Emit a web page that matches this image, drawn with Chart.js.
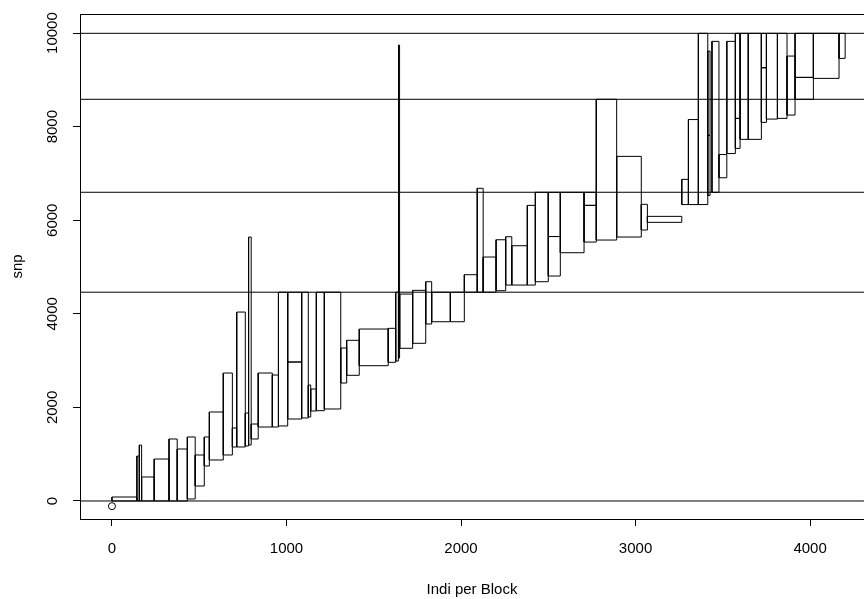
<!DOCTYPE html>
<html>
<head>
<meta charset="utf-8">
<script src="https://cdn.jsdelivr.net/npm/chart.js@4.4.0/dist/chart.umd.min.js"></script>
<style>
  html, body { margin: 0; padding: 0; background: #fff; }
  #wrap { width: 864px; height: 599px; }
</style>
</head>
<body>
<div id="wrap"><canvas id="blockChart" width="864" height="599"></canvas></div>
<script>
// Blocks: individual range (x0..x1) against snp range (y0..y1)
const blockX0 = [0, 143, 157, 170, 242, 327, 374, 432, 477, 529, 558, 638, 690, 715, 764, 783, 798, 838, 919, 954,
  1007, 1007, 1087, 1125, 1139, 1171, 1217, 1311, 1345, 1417, 1583, 1626, 1642, 1649, 1723, 1798, 1832, 1939,
  2019, 2093, 2127, 2201, 2256, 2291, 2380, 2426, 2500, 2500, 2569, 2705, 2705, 2775, 2892, 3033, 3068,
  3265, 3303, 3360, 3414, 3414, 3438, 3478, 3523, 3572, 3572, 3599, 3646, 3721, 3721, 3750, 3813, 3868,
  3914, 3914, 4019, 4166];
const blockX1 = [143, 157, 170, 242, 327, 374, 432, 477, 529, 558, 638, 690, 715, 764, 783, 798, 838, 919, 954, 1007,
  1087, 1087, 1125, 1139, 1171, 1217, 1311, 1345, 1417, 1583, 1626, 1641, 1648, 1723, 1798, 1832, 1939, 2019,
  2093, 2127, 2201, 2256, 2291, 2380, 2426, 2500, 2569, 2569, 2705, 2775, 2775, 2892, 3033, 3068, 3265,
  3303, 3360, 3414, 3427, 3427, 3478, 3523, 3572, 3599, 3599, 3646, 3721, 3750, 3750, 3813, 3868, 3914,
  4019, 4019, 4166, 4201];
const blockY0 = [0, 0, 0, 0, 0, 0, 0, 43, 320, 748, 876, 983, 1154, 1154, 1175, 1197, 1325, 1581, 1581, 1603,
  1752, 2970, 1774, 1795, 1923, 1930, 1966, 2521, 2686, 2891, 2964, 2991, 3055, 3263, 3370, 3782, 3831, 3831,
  4462, 4462, 4462, 4494, 4615, 4615, 4615, 4686, 4808, 5652, 5306, 5534, 6318, 5577, 5641, 5791, 5955,
  6335, 6335, 6335, 6528, 7814, 6598, 6908, 7425, 7536, 8177, 7729, 7729, 8092, 9259, 8162, 8177, 8248,
  9053, 8585, 9032, 9459];
const blockY1 = [85, 960, 1195, 513, 897, 1325, 1111, 1368, 983, 1368, 1902, 2735, 1560, 4038, 1880, 5641, 1645, 2735, 2692, 4462,
  2970, 4462, 4462, 2479, 2393, 4462, 4462, 3269, 3434, 3675, 3690, 4462, 9744, 4423, 4502, 4686, 4462, 4462,
  4836, 6682, 5214, 5583, 5647, 5455, 6318, 6598, 5652, 6598, 6598, 6318, 6598, 8585, 7365, 6340, 6083,
  6874, 8152, 9995, 7814, 9615, 9823, 7404, 9823, 8177, 9995, 9995, 9995, 9259, 9995, 9995, 9995, 9509,
  9995, 9053, 9995, 9995];

// Horizontal cut levels and the starting point
const cutLevels = [0, 4462, 6598, 8585, 9995];
const startX = [0];
const startY = [-110];

const xTicks = [0, 1000, 2000, 3000, 4000];
const yTicks = [0, 2000, 4000, 6000, 8000, 10000];
const xRange = [-183, 4309];
const yRange = [-385, 10408];

const FONT = '"Liberation Sans", Arial, sans-serif';

// rectangle outlines as one broken polyline
const rectPath = [];
blockX0.forEach((x0, i) => {
    const x1 = blockX1[i], y0 = blockY0[i], y1 = blockY1[i];
    rectPath.push({ x: x0, y: y0 }, { x: x1, y: y0 }, { x: x1, y: y1 }, { x: x0, y: y1 }, { x: x0, y: y0 });
    rectPath.push({ x: null, y: null });
});

const cutPath = [];
cutLevels.forEach(v => {
    cutPath.push({ x: xRange[0], y: v }, { x: xRange[1], y: v }, { x: null, y: null });
});

const framePlugin = {
    id: 'frameAndLabels',
    afterDraw(chart) {
        const ctx = chart.ctx;
        const a = chart.chartArea;
        const ys = chart.scales.y;
        ctx.save();
        ctx.strokeStyle = '#000';
        ctx.lineWidth = 1;
        ctx.strokeRect(a.left + 0.5, a.top + 0.5, a.right - a.left, a.bottom - a.top);

        // rotated y tick labels, as in base R
        ctx.font = '15px ' + FONT;
        ctx.fillStyle = '#000';
        ctx.textAlign = 'center';
        ctx.textBaseline = 'middle';
        yTicks.forEach(v => {
            ctx.save();
            ctx.translate(a.left - 27, ys.getPixelForValue(v));
            ctx.rotate(-Math.PI / 2);
            ctx.fillText(String(v), 0, 0);
            ctx.restore();
        });
        ctx.restore();
    }
};

const axisLook = {
    border: { display: false },
    grid: { drawOnChartArea: false, drawTicks: true, tickLength: 7, color: '#000', lineWidth: 1 }
};

new Chart(document.getElementById('blockChart'), {
    type: 'scatter',
    data: {
        datasets: [
            { data: rectPath, showLine: true, spanGaps: false, borderColor: '#000', borderWidth: 1, pointRadius: 0, tension: 0 },
            { data: cutPath, showLine: true, spanGaps: false, borderColor: '#000', borderWidth: 1, pointRadius: 0 },
            { data: startX.map((x, i) => ({ x: x, y: startY[i] })), showLine: false, pointRadius: 3.5,
              pointStyle: 'circle', borderColor: '#000', borderWidth: 1, backgroundColor: 'rgba(0,0,0,0)' }
        ]
    },
    options: {
        responsive: false,
        animation: false,
        layout: { autoPadding: false, padding: { top: 14, right: 0, left: 0, bottom: 0 } },
        plugins: { legend: { display: false }, tooltip: { enabled: false } },
        scales: {
            x: {
                ...axisLook,
                type: 'linear',
                min: xRange[0], max: xRange[1],
                afterBuildTicks: s => { s.ticks = xTicks.map(v => ({ value: v })); },
                afterFit: s => { s.height = 80; s.paddingLeft = 0; s.paddingRight = 0; },
                ticks: { color: '#000', font: { family: FONT, size: 15 }, padding: 14, callback: v => String(v) },
                title: { display: true, text: 'Indi per Block', color: '#000', font: { family: FONT, size: 15 }, padding: { top: 0, bottom: 0 } }
            },
            y: {
                ...axisLook,
                type: 'linear',
                min: yRange[0], max: yRange[1],
                afterBuildTicks: s => { s.ticks = yTicks.map(v => ({ value: v })); },
                afterFit: s => { s.width = 80; s.paddingTop = 0; s.paddingBottom = 0; },
                ticks: { display: false },
                title: { display: true, text: 'snp', color: '#000', font: { family: FONT, size: 15 }, padding: { top: 9, bottom: 0 } }
            }
        }
    },
    plugins: [framePlugin]
});
</script>
</body>
</html>
